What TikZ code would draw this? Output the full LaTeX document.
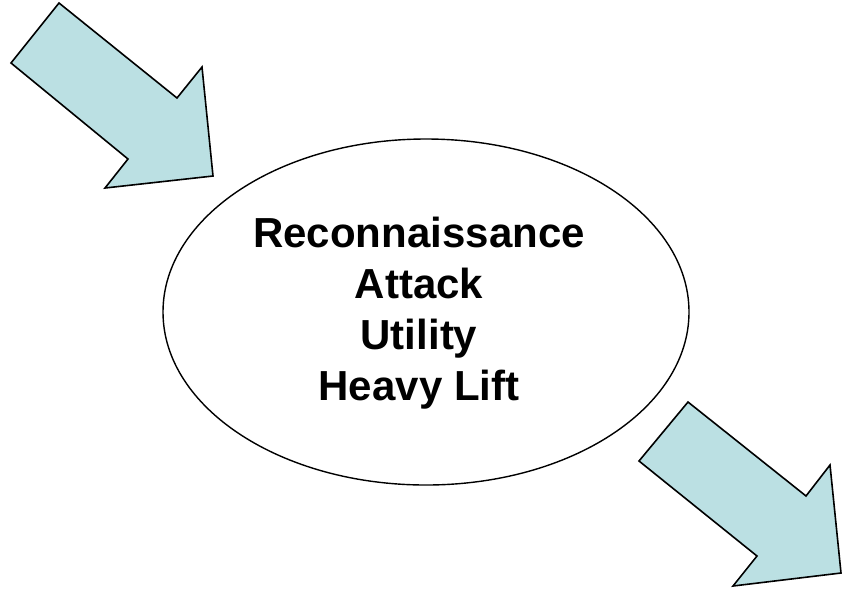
\documentclass[tikz,border=0pt]{standalone}
\usepackage{fontspec}
\setmainfont{Liberation Sans}
\usetikzlibrary{shapes.geometric}
\definecolor{arrowfill}{RGB}{187,224,227}
\begin{document}
\begin{tikzpicture}[x=1pt,y=-1pt,
  bigarrow/.style={draw=black,line width=1.6pt,fill=arrowfill,line join=miter},
  oval/.style={draw=black,line width=1.4pt,ellipse,minimum width=526pt,minimum height=346pt,inner sep=0pt},
  label/.style={font=\fontsize{42}{51}\selectfont\bfseries,anchor=base,inner sep=0pt}]
\useasboundingbox (0,0) rectangle (842,590);
\node[oval] (ell) at (426,312) {};
\node[label] (l1) at (419,247) {Reconnaissance};
\node[label] (l2) at (419,298) {Attack};
\node[label] (l3) at (419,349) {Utility};
\node[label] (l4) at (419,400) {Heavy Lift};
\draw[bigarrow] (59,3) -- (11,63) -- (128,159) -- (105,188) -- (213,176) -- (202,67) -- (177,98) -- cycle;
\draw[bigarrow] (688,402) -- (639,461) -- (757,556) -- (733,586) -- (841,573) -- (830,465) -- (806,496) -- cycle;
\end{tikzpicture}
\end{document}
